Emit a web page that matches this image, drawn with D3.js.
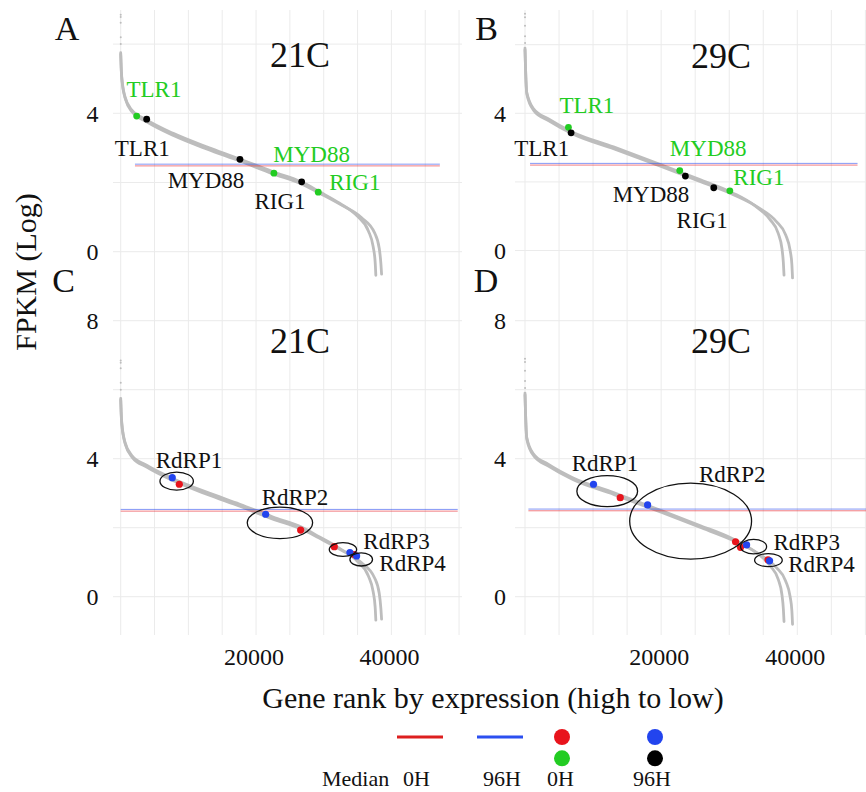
<!DOCTYPE html>
<html><head><meta charset="utf-8">
<script src="https://cdn.jsdelivr.net/npm/d3@7"></script>
<style>body{margin:0;background:#fff}svg{display:block}text{font-family:"Liberation Serif","Times New Roman",serif;fill:#111}</style>
</head><body><svg id="c" width="866" height="792" font-family="Liberation Serif, Times New Roman, serif"></svg>
<script>
// ---------------- data ----------------
const gridRanks = [0,5000,10000,15000,20000,25000,30000,35000,40000,45000,50000];
const xTickRanks = [20000, 40000];
const genes = ["TLR1","MYD88","RIG1"];
const rdrps = ["RdRP1","RdRP2","RdRP3","RdRP4"];

// ranked expression curves (rank, log FPKM)
const curve21_0H = [[0,5.75],[70,5.35],[150,5.06],[630,4.48],[1620,4.10],[3830,3.81],[7760,3.42],[12680,3.03],[17600,2.68],[22500,2.31],[26700,2.02],[29400,1.73],[32350,1.40],[35000,1.02],[36600,0.6],[37300,0.15],[37600,-0.3],[37700,-0.68]];
const curve21_96H = [[0,5.7],[70,5.3],[160,5.0],[680,4.42],[1700,4.04],[3900,3.75],[7800,3.36],[12700,2.97],[17600,2.62],[22500,2.25],[26700,1.96],[29600,1.67],[32700,1.34],[35600,0.98],[37500,0.55],[38200,0.1],[38450,-0.35],[38550,-0.65]];
const curve29_0H = [[0,5.9],[80,5.3],[250,4.62],[1230,4.14],[3400,3.84],[7000,3.45],[13000,3.02],[20000,2.5],[25500,2.08],[30500,1.68],[33800,1.3],[36000,0.9],[37200,0.5],[37750,0.05],[37950,-0.35],[38050,-0.72]];
const curve29_96H = [[0,5.85],[90,5.25],[270,4.56],[1300,4.08],[3500,3.78],[7100,3.39],[13100,2.96],[20100,2.44],[25600,2.02],[30700,1.62],[34300,1.25],[36900,0.85],[38300,0.45],[38950,0.0],[39200,-0.4],[39300,-0.8]];
// sparse top-ranked genes (rank, log FPKM)
const top21 = [[0,6.85],[0,6.78],[0,6.62],[5,6.2],[10,6.0]];
const top29 = [[0,6.9],[0,6.8],[0,6.55],[5,6.25],[10,6.05]];

// medians (log FPKM)
const median21 = {h0: 2.48, h96: 2.53};
const median29 = {h0: 2.49, h96: 2.54};

// immune genes: ranks and values
const imm21_0H_rank = [2360, 22640, 29190], imm21_0H_val = [3.92, 2.27, 1.72];
const imm21_96H_rank = [3840, 17620, 26740], imm21_96H_val = [3.83, 2.67, 2.02];
const imm29_0H_rank = [6380, 22730, 30090], imm29_0H_val = [3.59, 2.33, 1.74];
const imm29_96H_rank = [6770, 23560, 27730], imm29_96H_val = [3.43, 2.17, 1.83];

// RdRP: ranks and values
const rd21_0H_rank = [8660, 26590, 31560, 34500], rd21_0H_val = [3.26, 1.93, 1.45, 1.22];
const rd21_96H_rank = [7620, 21420, 33870, 34860], rd21_96H_val = [3.45, 2.39, 1.28, 1.18];
const rd29_0H_rank = [13990, 30930, 31660, 35700], rd29_0H_val = [2.87, 1.59, 1.43, 1.07];
const rd29_96H_rank = [10060, 18010, 32550, 35930], rd29_96H_val = [3.26, 2.66, 1.50, 1.04];

// annotation ellipses (center rank, center value, half-width in rank, half-height in value)
const ell21 = [[8270,3.35,2470,0.26],[23530,2.14,4830,0.455],[32840,1.37,2020,0.20],[35540,1.08,1670,0.19]];
const ell29 = [[12080,3.06,4460,0.45],[24330,2.19,8950,1.10],[33580,1.45,1910,0.21],[35760,1.06,2030,0.19]];

// label anchors (rank, value)
const lab21_0H = [[4920,4.69],[28210,2.82],[34610,2.02]];
const lab21_96H = [[3190,2.99],[12600,2.07],[23530,1.47]];
const lab29_0H = [[9090,4.23],[26910,2.98],[34360,2.15]];
const lab29_96H = [[2460,2.98],[18510,1.64],[26020,0.90]];
const labRd21 = [[10090,3.96],[25750,2.88],[40770,1.62],[43130,0.97]];
const labRd29 = [[11740,3.88],[30440,3.57],[41380,1.58],[43550,0.95]];

// median line extents (rank)
const medExtA = [2110, 47160], medExtB = [740, 48850], medExtC = [0, 49800], medExtD = [500, 50600];

const legendLabels = ["Median","0H","96H","0H","96H"];

// ---------------- styles ----------------
const COL = {red:"#e8141c", blue:"#2244ee", green:"#22cc22", black:"#000", grey:"#bdbdbd", grid:"#ebebeb"};

const svg = d3.select("#c");

const panels = [
  {letter:"A", title:"21C", xr:[120.7,391.4], ydom:[0,4], yr:[251.7,113.3], box:[113,462,10,300], hgrid:[0,2,4,6], yt:[0,4], tickX:98.5,
   curves:[curve21_0H,curve21_96H], top:top21, med:median21, medExt:medExtA, kind:"imm",
   p0:[imm21_0H_rank,imm21_0H_val], p96:[imm21_96H_rank,imm21_96H_val], l0:lab21_0H, l96:lab21_96H,
   letterPos:[67,40], titlePos:[300,66.7]},
  {letter:"B", title:"29C", xr:[525,797.3], ydom:[0,4], yr:[250.5,113.3], box:[515,866,10,300], hgrid:[0,2,4,6], yt:[0,4], tickX:506,
   curves:[curve29_0H,curve29_96H], top:top29, med:median29, medExt:medExtB, kind:"imm",
   p0:[imm29_0H_rank,imm29_0H_val], p96:[imm29_96H_rank,imm29_96H_val], l0:lab29_0H, l96:lab29_96H,
   letterPos:[486.5,40], titlePos:[721,68.3]},
  {letter:"C", title:"21C", xr:[120.7,391.4], ydom:[0,8], yr:[596.7,320.7], box:[113,462,300,635], hgrid:[0,2,4,6,8], yt:[0,4,8], tickX:98.5,
   curves:[curve21_0H,curve21_96H], top:top21, med:median21, medExt:medExtC, kind:"rd",
   p0:[rd21_0H_rank,rd21_0H_val], p96:[rd21_96H_rank,rd21_96H_val], ell:ell21, lab:labRd21,
   letterPos:[63.5,291.7], titlePos:[300,353.3], xticks:true},
  {letter:"D", title:"29C", xr:[525,797.3], ydom:[0,8], yr:[596.7,320.7], box:[515,866,300,635], hgrid:[0,2,4,6,8], yt:[0,4,8], tickX:506,
   curves:[curve29_0H,curve29_96H], top:top29, med:median29, medExt:medExtD, kind:"rd",
   p0:[rd29_0H_rank,rd29_0H_val], p96:[rd29_96H_rank,rd29_96H_val], ell:ell29, lab:labRd29,
   letterPos:[486,291.7], titlePos:[721,353.3], xticks:true}
];

panels.forEach(p => {
  const x = d3.scaleLinear().domain([0,40000]).range(p.xr);
  const y = d3.scaleLinear().domain(p.ydom).range(p.yr);
  const [bx0,bx1,by0,by1] = p.box;
  const g = svg.append("g");

  // grid
  g.selectAll(".vg").data(gridRanks).join("line")
    .attr("x1",d=>x(d)).attr("x2",d=>x(d)).attr("y1",by0).attr("y2",by1)
    .attr("stroke",COL.grid).attr("stroke-width",1);
  g.selectAll(".hg").data(p.hgrid).join("line")
    .attr("x1",bx0).attr("x2",bx1).attr("y1",d=>y(d)).attr("y2",d=>y(d))
    .attr("stroke",COL.grid).attr("stroke-width",1);

  // y ticks
  g.selectAll(".yt").data(p.yt).join("text")
    .attr("x",p.tickX).attr("y",d=>y(d)).attr("dy","0.35em")
    .attr("text-anchor","end").attr("font-size",24).text(d=>d);

  // x ticks
  if (p.xticks) {
    g.selectAll(".xt").data(xTickRanks).join("text")
      .attr("x",d=>x(d)-2).attr("y",665).attr("text-anchor","middle")
      .attr("font-size",24).text(d=>d);
  }

  // curves
  const line = d3.line().x(d=>x(d[0])).y(d=>y(d[1])).curve(d3.curveMonotoneX);
  g.selectAll(".cv").data(p.curves).join("path")
    .attr("d",line).attr("fill","none").attr("stroke",COL.grey)
    .attr("stroke-width",2.8).attr("stroke-linecap","round");
  g.selectAll(".tp").data(p.top).join("circle")
    .attr("cx",d=>x(d[0])).attr("cy",d=>y(d[1])).attr("r",1).attr("fill",COL.grey);

  // medians
  [[p.med.h96,COL.blue],[p.med.h0,COL.red]].forEach(([v,c]) => {
    g.append("line").attr("x1",x(p.medExt[0])).attr("x2",x(p.medExt[1]))
      .attr("y1",y(v)).attr("y2",y(v)).attr("stroke",c).attr("stroke-width",1).attr("opacity",0.55);
  });

  if (p.kind === "imm") {
    const d0 = genes.map((n,i)=>({n, r:p.p0[0][i], v:p.p0[1][i]}));
    const d96 = genes.map((n,i)=>({n, r:p.p96[0][i], v:p.p96[1][i]}));
    g.selectAll(".g0").data(d0).join("circle").attr("cx",d=>x(d.r)).attr("cy",d=>y(d.v)).attr("r",3.4).attr("fill",COL.green);
    g.selectAll(".g96").data(d96).join("circle").attr("cx",d=>x(d.r)).attr("cy",d=>y(d.v)).attr("r",3.4).attr("fill",COL.black);
    g.selectAll(".l0").data(genes).join("text")
      .attr("x",(d,i)=>x(p.l0[i][0])).attr("y",(d,i)=>y(p.l0[i][1])).attr("dy","0.35em")
      .attr("text-anchor","middle").attr("font-size",23).style("fill",COL.green).text(d=>d);
    g.selectAll(".l96").data(genes).join("text")
      .attr("x",(d,i)=>x(p.l96[i][0])).attr("y",(d,i)=>y(p.l96[i][1])).attr("dy","0.35em")
      .attr("text-anchor","middle").attr("font-size",23).style("fill","#111").text(d=>d);
  } else {
    const d0 = rdrps.map((n,i)=>({n, r:p.p0[0][i], v:p.p0[1][i]}));
    const d96 = rdrps.map((n,i)=>({n, r:p.p96[0][i], v:p.p96[1][i]}));
    g.selectAll(".r0").data(d0).join("circle").attr("cx",d=>x(d.r)).attr("cy",d=>y(d.v)).attr("r",3.6).attr("fill",COL.red);
    g.selectAll(".r96").data(d96).join("circle").attr("cx",d=>x(d.r)).attr("cy",d=>y(d.v)).attr("r",3.6).attr("fill",COL.blue);
    g.selectAll(".el").data(p.ell).join("ellipse")
      .attr("cx",d=>x(d[0])).attr("cy",d=>y(d[1]))
      .attr("rx",d=>x(d[0]+d[2])-x(d[0])).attr("ry",d=>y(d[1]-d[3])-y(d[1]))
      .attr("fill","none").attr("stroke","#111").attr("stroke-width",1.3);
    g.selectAll(".lr").data(rdrps).join("text")
      .attr("x",(d,i)=>x(p.lab[i][0])).attr("y",(d,i)=>y(p.lab[i][1])).attr("dy","0.35em")
      .attr("text-anchor","middle").attr("font-size",23).text(d=>d);
  }

  // titles and letters
  g.append("text").attr("x",p.titlePos[0]).attr("y",p.titlePos[1]).attr("text-anchor","middle")
    .attr("font-size",36).text(p.title);
  g.append("text").attr("x",p.letterPos[0]).attr("y",p.letterPos[1]).attr("text-anchor","middle")
    .attr("font-size",34).text(p.letter);
});

// axis titles
svg.append("text").attr("transform","translate(36,272) rotate(-90)").attr("text-anchor","middle")
  .attr("font-size",30).text("FPKM (Log)");
svg.append("text").attr("x",493).attr("y",708).attr("text-anchor","middle")
  .attr("font-size",30).text("Gene rank by expression (high to low)");

// legend
const lg = svg.append("g");
lg.append("line").attr("x1",397).attr("x2",443).attr("y1",737).attr("y2",737).attr("stroke","#dd1f1f").attr("stroke-width",3);
lg.append("line").attr("x1",477).attr("x2",523).attr("y1",737).attr("y2",737).attr("stroke","#2b4ff0").attr("stroke-width",3);
[[562,737,COL.red],[562,758.3,COL.green],[655,737,COL.blue],[655,758.3,COL.black]].forEach(([cx,cy,c])=>{
  lg.append("circle").attr("cx",cx).attr("cy",cy).attr("r",8).attr("fill",c);
});
const legX = [322,403,483,547,633];
lg.selectAll(".lt").data(legendLabels).join("text")
  .attr("x",(d,i)=>legX[i]).attr("y",786).attr("font-size",22).text(d=>d);
</script>
</body></html>
